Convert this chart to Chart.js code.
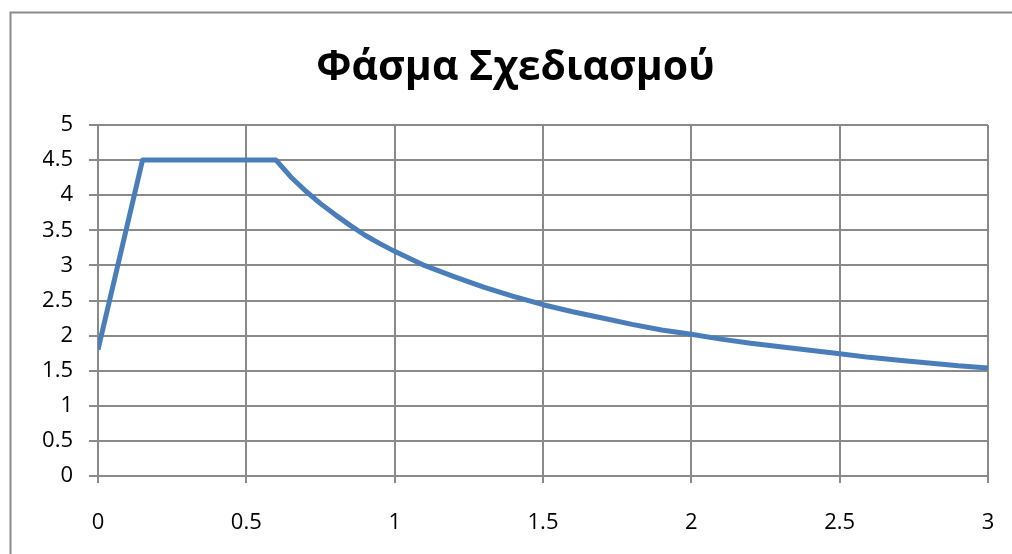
<!DOCTYPE html>
<html>
<head>
<meta charset="utf-8">
<style>
  html, body { margin: 0; padding: 0; background: #ffffff; }
  canvas { display: block; }
</style>
<script src="https://cdn.jsdelivr.net/npm/chart.js@4/dist/chart.umd.min.js"></script>
</head>
<body>
<canvas id="spectrum" width="1012" height="554"></canvas>
<script>
// Design spectrum: period T (s) and spectral acceleration value
const periodT = [0, 0.15, 0.6, 0.65, 0.7, 0.75, 0.8, 0.85, 0.9, 0.95, 1.0,
  1.1, 1.2, 1.3, 1.4, 1.5, 1.6, 1.7, 1.8, 1.9, 2.0,
  2.1, 2.2, 2.3, 2.4, 2.5, 2.6, 2.7, 2.8, 2.9, 3.0];
const spectralSa = [1.8, 4.5, 4.5, 4.26, 4.06, 3.88, 3.72, 3.57, 3.43, 3.31, 3.2,
  3.0, 2.84, 2.69, 2.56, 2.44, 2.34, 2.25, 2.16, 2.08, 2.02,
  1.95, 1.89, 1.84, 1.79, 1.74, 1.69, 1.65, 1.61, 1.57, 1.54];

const chartTitle = 'Φάσμα Σχεδιασμού';
const xTickStep = 0.5;
const yTickStep = 0.5;

const gridGray = '#8a8a8a';
const tickFont = { family: 'Open Sans', size: 22 };

// Frame drawn around the chart (top and left edges)
const chartFrame = {
  id: 'chartFrame',
  beforeDraw(chart) {
    const ctx = chart.ctx;
    ctx.save();
    ctx.fillStyle = '#ffffff';
    ctx.fillRect(0, 0, chart.width, chart.height);
    ctx.strokeStyle = '#8c8c8c';
    ctx.lineWidth = 2;
    ctx.beginPath();
    ctx.moveTo(10.5, chart.height);
    ctx.lineTo(10.5, 12.5);
    ctx.lineTo(chart.width, 12.5);
    ctx.stroke();
    ctx.restore();
  }
};

const points = periodT.map((t, i) => ({ x: t, y: spectralSa[i] }));

new Chart(document.getElementById('spectrum'), {
  type: 'line',
  data: {
    datasets: [{
      data: points,
      borderColor: '#4a7ebb',
      borderWidth: 5,
      pointRadius: 0,
      tension: 0,
      fill: false,
      borderJoinStyle: 'round',
      borderCapStyle: 'butt'
    }]
  },
  options: {
    responsive: false,
    animation: false,
    layout: { padding: { top: 0, left: 43, right: 24, bottom: 0 } },
    plugins: {
      legend: { display: false },
      tooltip: { enabled: false },
      title: {
        display: true,
        text: chartTitle,
        color: '#000000',
        font: { family: 'Open Sans', size: 41, weight: 'bold', lineHeight: 1.2 },
        padding: { top: 44, bottom: 31.8 }
      }
    },
    scales: {
      x: {
        type: 'linear',
        min: 0,
        max: 3,
        afterFit(scale) {
          scale.height = 78;
          scale.paddingLeft = 0;
          scale.paddingRight = 0;
        },
        grid: {
          color: gridGray,
          lineWidth: 2,
          tickLength: 7,
          drawTicks: true
        },
        border: { color: gridGray, width: 2 },
        ticks: {
          stepSize: xTickStep,
          color: '#000000',
          padding: 27,
          maxRotation: 0,
          font: tickFont,
          callback: (v) => String(v)
        }
      },
      y: {
        min: 0,
        max: 5,
        afterFit(scale) { scale.width = 55; },
        grid: {
          color: gridGray,
          lineWidth: 2,
          tickLength: 9,
          drawTicks: true
        },
        border: { color: gridGray, width: 2 },
        ticks: {
          stepSize: yTickStep,
          color: '#000000',
          padding: 16,
          font: tickFont,
          callback: (v) => String(v)
        }
      }
    }
  },
  plugins: [chartFrame]
});
</script>
</body>
</html>
